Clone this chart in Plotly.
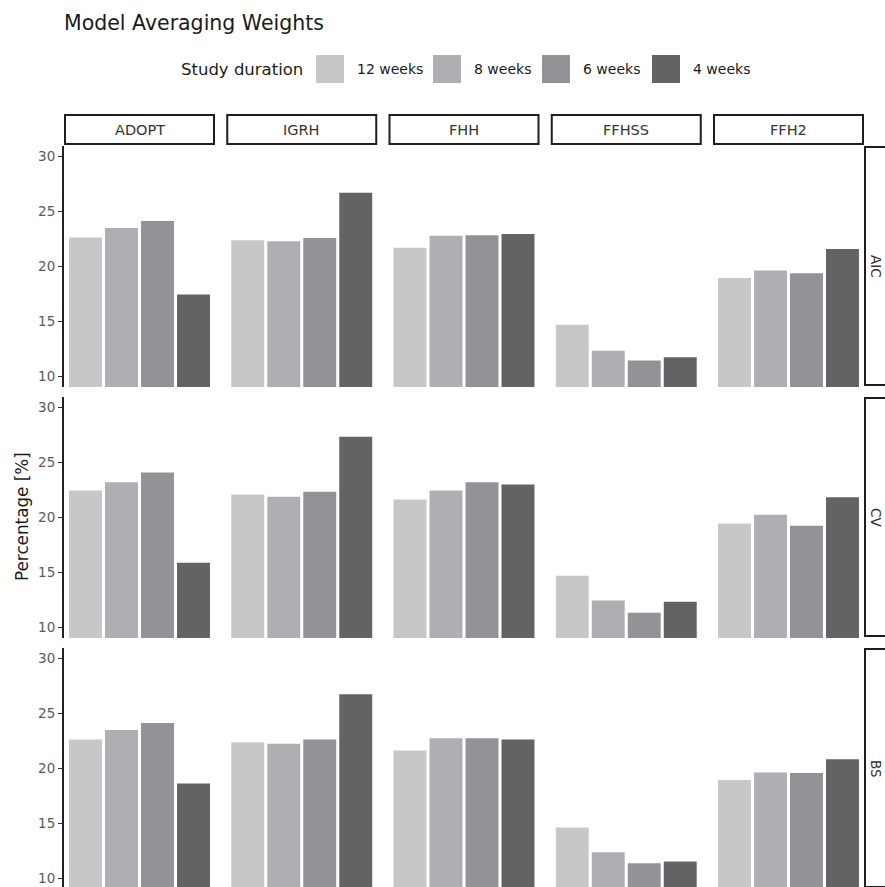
import plotly.graph_objects as go

# ---- data ---------------------------------------------------------------
durations = ["12 weeks", "8 weeks", "6 weeks", "4 weeks"]
models = ["ADOPT", "IGRH", "FHH", "FFHSS", "FFH2"]
criteria = ["AIC", "CV", "BS"]

aic_weights = {
    "ADOPT": [22.6, 23.45, 24.1, 17.4],
    "IGRH": [22.35, 22.25, 22.55, 26.65],
    "FHH": [21.65, 22.75, 22.8, 22.9],
    "FFHSS": [14.65, 12.3, 11.4, 11.7],
    "FFH2": [18.9, 19.6, 19.35, 21.55],
}
cv_weights = {
    "ADOPT": [22.4, 23.15, 24.05, 15.85],
    "IGRH": [22.05, 21.85, 22.3, 27.3],
    "FHH": [21.6, 22.4, 23.15, 22.95],
    "FFHSS": [14.65, 12.4, 11.3, 12.3],
    "FFH2": [19.4, 20.2, 19.2, 21.8],
}
bs_weights = {
    "ADOPT": [22.6, 23.45, 24.1, 18.6],
    "IGRH": [22.35, 22.2, 22.6, 26.7],
    "FHH": [21.6, 22.7, 22.7, 22.6],
    "FFHSS": [14.6, 12.35, 11.35, 11.5],
    "FFH2": [18.9, 19.6, 19.55, 20.8],
}
weights = {"AIC": aic_weights, "CV": cv_weights, "BS": bs_weights}

y_ticks = [10, 15, 20, 25, 30]
duration_colors = ["#c6c7c9", "#aeafb2", "#929396", "#636365"]

# ---- page geometry (pixels) --------------------------------------------
W, H = 885, 887
FONT = "DejaVu Sans"


def fx(px):
    return px / W


def fy(py):
    return 1 - py / H


col_left = [64, 226.25, 388.5, 550.75, 713]
col_width = 151
row_top = [146, 397, 648]
row_height = 241
unit_px = 11.0
y_low = 9.0
y_high = y_low + row_height / unit_px
cat_half = col_width / 36.0 / 2

fig = go.Figure()
layout = dict(
    width=W, height=H,
    margin=dict(l=0, r=0, t=0, b=0),
    paper_bgcolor="white", plot_bgcolor="white",
    showlegend=False,
    font=dict(family=FONT, color="#333333"),
)
shapes, annotations = [], []

for r, crit in enumerate(criteria):
    top = row_top[r]
    bottom = min(top + row_height, H)
    lo = y_low + (top + row_height - bottom) / unit_px
    for c, model in enumerate(models):
        n = r * 5 + c + 1
        xa = "xaxis" if n == 1 else f"xaxis{n}"
        ya = "yaxis" if n == 1 else f"yaxis{n}"
        left = col_left[c]
        layout[xa] = dict(
            domain=[fx(left), fx(left + col_width)],
            type="category", categoryorder="array", categoryarray=durations,
            range=[1.5 - cat_half, 1.5 + cat_half],
            visible=False, anchor=f"y{n}" if n > 1 else "y",
        )
        ya_cfg = dict(
            domain=[fy(bottom), fy(top)], range=[lo, y_high],
            showgrid=False, zeroline=False,
            anchor=f"x{n}" if n > 1 else "x",
        )
        if c == 0:
            ya_cfg.update(
                showline=True, linecolor="#222222", linewidth=2,
                ticks="outside", ticklen=4, tickcolor="#333333", tickwidth=1,
                tickvals=y_ticks, ticktext=[str(t) for t in y_ticks],
                tickfont=dict(family=FONT, size=13.5, color="#5a5a5a"),
            )
        else:
            ya_cfg.update(showline=False, showticklabels=False, ticks="")
        layout[ya] = ya_cfg

        fig.add_trace(go.Bar(
            x=durations, y=weights[crit][model],
            marker=dict(color=duration_colors, line=dict(width=0)),
            width=0.915,
            xaxis=f"x{n}" if n > 1 else "x",
            yaxis=f"y{n}" if n > 1 else "y",
            hoverinfo="x+y",
        ))

        # column strips along the top row
        if r == 0:
            shapes.append(dict(
                type="rect", xref="paper", yref="paper",
                x0=fx(left + 1), x1=fx(left + col_width - 1),
                y0=fy(144), y1=fy(115),
                line=dict(color="#1e1e1e", width=2), fillcolor="white",
            ))
            annotations.append(dict(
                text=model, xref="paper", yref="paper",
                x=fx(left + col_width / 2), y=fy(129.5),
                xanchor="center", yanchor="middle", showarrow=False,
                font=dict(family=FONT, size=14.5, color="#333333"),
            ))

    # row strip on the right
    shapes.append(dict(
        type="rect", xref="paper", yref="paper",
        x0=fx(865), x1=fx(900),
        y0=fy(top + row_height - 2), y1=fy(top + 1),
        line=dict(color="#1e1e1e", width=2), fillcolor="white",
    ))
    annotations.append(dict(
        text=crit, xref="paper", yref="paper",
        x=fx(876.5), y=fy(top + row_height / 2),
        xanchor="center", yanchor="middle", showarrow=False, textangle=90,
        font=dict(family=FONT, size=13.5, color="#333333"),
    ))

# ---- title, axis title, legend -----------------------------------------
annotations.append(dict(
    text="Model Averaging Weights", xref="paper", yref="paper",
    x=fx(62), y=fy(23), xanchor="left", yanchor="middle", showarrow=False,
    font=dict(family=FONT, size=20.5, color="#1a1a1a"),
))
annotations.append(dict(
    text="Percentage [%]", xref="paper", yref="paper",
    x=fx(22), y=fy(517), xanchor="center", yanchor="middle", showarrow=False,
    textangle=-90, font=dict(family=FONT, size=16.8, color="#1a1a1a"),
))
annotations.append(dict(
    text="Study duration", xref="paper", yref="paper",
    x=fx(305), y=fy(69), xanchor="right", yanchor="middle", showarrow=False,
    font=dict(family=FONT, size=16.5, color="#1a1a1a"),
))
key_left = [316, 433, 542, 652]
for k, (lab, col) in enumerate(zip(durations, duration_colors)):
    x0 = key_left[k]
    shapes.append(dict(
        type="rect", xref="paper", yref="paper",
        x0=fx(x0), x1=fx(x0 + 28), y0=fy(83), y1=fy(55),
        line=dict(width=0), fillcolor=col,
    ))
    annotations.append(dict(
        text=lab, xref="paper", yref="paper",
        x=fx(x0 + 39), y=fy(69), xanchor="left", yanchor="middle",
        showarrow=False, font=dict(family=FONT, size=14, color="#1a1a1a"),
    ))

layout["shapes"] = shapes
layout["annotations"] = annotations
fig.update_layout(**layout)
fig.write_html("out.html")
